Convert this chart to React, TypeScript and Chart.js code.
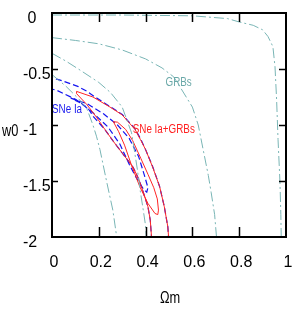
import React, { useEffect, useRef } from "react";
import { Chart, registerables } from "chart.js";

Chart.register(...registerables);

type P = [number, number];

// GRB contours (Ωm, w0)
const grbOuter: P[] = [[0, -0.018], [0.3, -0.018], [0.6, -0.025], [0.75, -0.05], [0.8, -0.08], [0.86, -0.11], [0.9, -0.15], [0.923, -0.21], [0.944, -0.3], [0.953, -0.48], [0.96, -0.78], [0.966, -1.13], [0.974, -1.5], [0.978, -1.8], [0.98, -2.05]];
const grbMiddle: P[] = [[0, -0.22], [0.1, -0.245], [0.2, -0.275], [0.3, -0.33], [0.4, -0.41], [0.47, -0.49], [0.52, -0.57], [0.55, -0.67], [0.6, -0.84], [0.625, -1.0], [0.646, -1.22], [0.668, -1.45], [0.68, -1.6], [0.695, -1.8], [0.705, -2.05]];
const grbInner: P[] = [[0, -0.36], [0.06, -0.43], [0.12, -0.51], [0.2, -0.62], [0.25, -0.71], [0.3, -0.84], [0.32, -0.955], [0.34, -1.07], [0.35, -1.2], [0.365, -1.4], [0.378, -1.6], [0.39, -1.76], [0.4, -1.9], [0.405, -2.05]];
const grbCore: P[] = [[0, -0.55], [0.06, -0.655], [0.12, -0.78], [0.15, -0.86], [0.175, -1.0], [0.19, -1.1], [0.205, -1.22], [0.235, -1.52], [0.26, -1.76], [0.28, -2.05]];

// SNe Ia contours
const sneOuter: P[] = [[-0.02, -0.565], [0.05, -0.61], [0.11, -0.655], [0.15, -0.7], [0.18, -0.745], [0.248, -0.835], [0.3, -0.905], [0.355, -1.035], [0.38, -1.13], [0.4, -1.22], [0.43, -1.37], [0.46, -1.55], [0.48, -1.73], [0.495, -1.91], [0.5, -2.05], [0.427, -2.05], [0.42, -1.85], [0.41, -1.73], [0.39, -1.6], [0.37, -1.48], [0.346, -1.375], [0.3, -1.25], [0.26, -1.14], [0.226, -1.04], [0.175, -0.92], [0.154, -0.85], [0.1, -0.77], [0.05, -0.72], [0.02, -0.69], [-0.02, -0.67]];
const sneInner: P[] = [[0.08, -0.76], [0.15, -0.81], [0.22, -0.9], [0.28, -1.0], [0.33, -1.12], [0.37, -1.28], [0.395, -1.45], [0.41, -1.56], [0.405, -1.6], [0.39, -1.57], [0.36, -1.47], [0.33, -1.35], [0.29, -1.17], [0.24, -1.02], [0.18, -0.9], [0.12, -0.8], [0.08, -0.76]];

// SNe Ia + GRBs contours
const jointOuter: P[] = [[0.105, -0.7], [0.175, -0.75], [0.248, -0.84], [0.3, -0.91], [0.355, -1.04], [0.378, -1.13], [0.4, -1.22], [0.43, -1.375], [0.46, -1.55], [0.48, -1.73], [0.495, -1.91], [0.5, -2.05], [0.427, -2.05], [0.42, -1.85], [0.41, -1.73], [0.39, -1.6], [0.37, -1.48], [0.346, -1.375], [0.3, -1.25], [0.26, -1.14], [0.226, -1.04], [0.19, -0.93], [0.15, -0.82], [0.105, -0.72], [0.105, -0.7]];
const jointInner: P[] = [[0.262, -0.97], [0.285, -1.06], [0.31, -1.18], [0.34, -1.36], [0.375, -1.55], [0.41, -1.7], [0.44, -1.79], [0.452, -1.8], [0.455, -1.76], [0.45, -1.66], [0.435, -1.56], [0.41, -1.44], [0.38, -1.3], [0.345, -1.14], [0.315, -1.04], [0.28, -0.975], [0.262, -0.97]];

const xTicks = [0, 0.2, 0.4, 0.6, 0.8, 1];
const xTickLabels = ["0", "0.2", "0.4", "0.6", "0.8", "1"];
const yTicks = [0, -0.5, -1, -1.5, -2];
const yTickLabels = ["0", "-0.5", "-1", "-1.5", "-2"];

const labels = [
  { text: "GRBs", x: 0.485, y: -0.625, color: "#6aa8a8" },
  { text: "SNe Ia", x: 0.0, y: -0.86, color: "#1a1aee" },
  { text: "SNe Ia+GRBs", x: 0.345, y: -1.045, color: "#ff2020" },
];

const TEAL = "#79b5b5";
const BLUE = "#1414f0";
const RED = "#ff2424";

const toData = (pts: P[]) => pts.map(([x, y]) => ({ x, y }));

export default function App() {
  const ref = useRef<HTMLCanvasElement | null>(null);
  useEffect(() => {
    document.body.style.margin = "0";
    const canvas = ref.current!;
    const line = (pts: P[], color: string, dash: number[], width: number) => ({
      data: toData(pts),
      showLine: true,
      borderColor: color,
      backgroundColor: color,
      borderWidth: width,
      borderDash: dash,
      pointRadius: 0,
      fill: false,
      tension: 0,
    });
    const framePlugin = {
      id: "frame",
      afterDraw(chart: any) {
        const { ctx, chartArea } = chart;
        const xs = chart.scales.x;
        const ys = chart.scales.y;
        const { left, right, top, bottom } = chartArea;
        ctx.save();
        // in-plot labels
        ctx.font = '12px "Liberation Sans", Arial, sans-serif';
        ctx.textBaseline = "middle";
        ctx.textAlign = "left";
        for (const l of labels) {
          ctx.save();
          ctx.translate(xs.getPixelForValue(l.x), ys.getPixelForValue(l.y));
          ctx.scale(0.82, 1);
          ctx.fillStyle = l.color;
          ctx.fillText(l.text, 0, 0);
          ctx.restore();
        }
        ctx.strokeStyle = "#000";
        ctx.lineWidth = 2;
        ctx.strokeRect(left, top, right - left, bottom - top);
        ctx.lineWidth = 1.5;
        ctx.beginPath();
        for (const v of xTicks) {
          if (v === 0 || v === 1) continue;
          const px = Math.round(xs.getPixelForValue(v)) + 0.5;
          ctx.moveTo(px, bottom);
          ctx.lineTo(px, bottom - 10);
          ctx.moveTo(px, top);
          ctx.lineTo(px, top + 9);
        }
        for (const v of yTicks) {
          if (v === 0 || v === -2) continue;
          const py = Math.round(ys.getPixelForValue(v)) + 0.5;
          ctx.moveTo(left, py);
          ctx.lineTo(left + 6, py);
          ctx.moveTo(right, py);
          ctx.lineTo(right - 7, py);
        }
        ctx.stroke();
        ctx.fillStyle = "#000";
        ctx.font = '16px "Liberation Sans", Arial, sans-serif';
        ctx.textBaseline = "middle";
        ctx.textAlign = "center";
        xTicks.forEach((v, i) => {
          ctx.fillText(xTickLabels[i], xs.getPixelForValue(v) + 2, bottom + 26);
        });
        ctx.textAlign = "left";
        const sp = ctx.measureText(" ").width;
        yTicks.forEach((v, i) => {
          const t = yTickLabels[i];
          ctx.fillText(t, 23 + (t.startsWith("-") ? 0 : sp), ys.getPixelForValue(v) + 6);
        });
        // axis titles
        ctx.save();
        ctx.translate(2, ys.getPixelForValue(-1) + 7);
        ctx.scale(0.8, 1);
        ctx.fillText("w0", 0, 0);
        ctx.restore();
        ctx.save();
        ctx.translate((left + right) / 2 + 1, bottom + 62);
        ctx.scale(0.8, 1);
        ctx.textAlign = "center";
        ctx.fillText("Ωm", 0, 0);
        ctx.restore();
        ctx.restore();
      },
    };
    const chart = new Chart(canvas, {
      type: "scatter",
      data: {
        datasets: [
          line(grbOuter, TEAL, [10, 3, 2, 3], 1),
          line(grbMiddle, TEAL, [10, 3, 2, 3], 1),
          line(grbInner, TEAL, [10, 3, 2, 3], 1),
          line(grbCore, TEAL, [10, 3, 2, 3], 1),
          line(jointOuter, RED, [], 1),
          line(jointInner, RED, [], 1),
          line(sneOuter, BLUE, [6, 3], 1.2),
          line(sneInner, BLUE, [6, 3], 1.2),
        ],
      },
      options: {
        responsive: false,
        animation: false,
        devicePixelRatio: 1,
        layout: { padding: { left: 52, right: 8, top: 13, bottom: 79 } },
        plugins: { legend: { display: false }, tooltip: { enabled: false } },
        scales: {
          x: { type: "linear", min: 0, max: 1, display: false },
          y: { type: "linear", min: -2, max: 0, display: false },
        },
      },
      plugins: [framePlugin],
    });
    return () => chart.destroy();
  }, []);
  return <canvas ref={ref} width={294} height={316} style={{ display: "block" }} />;
}
